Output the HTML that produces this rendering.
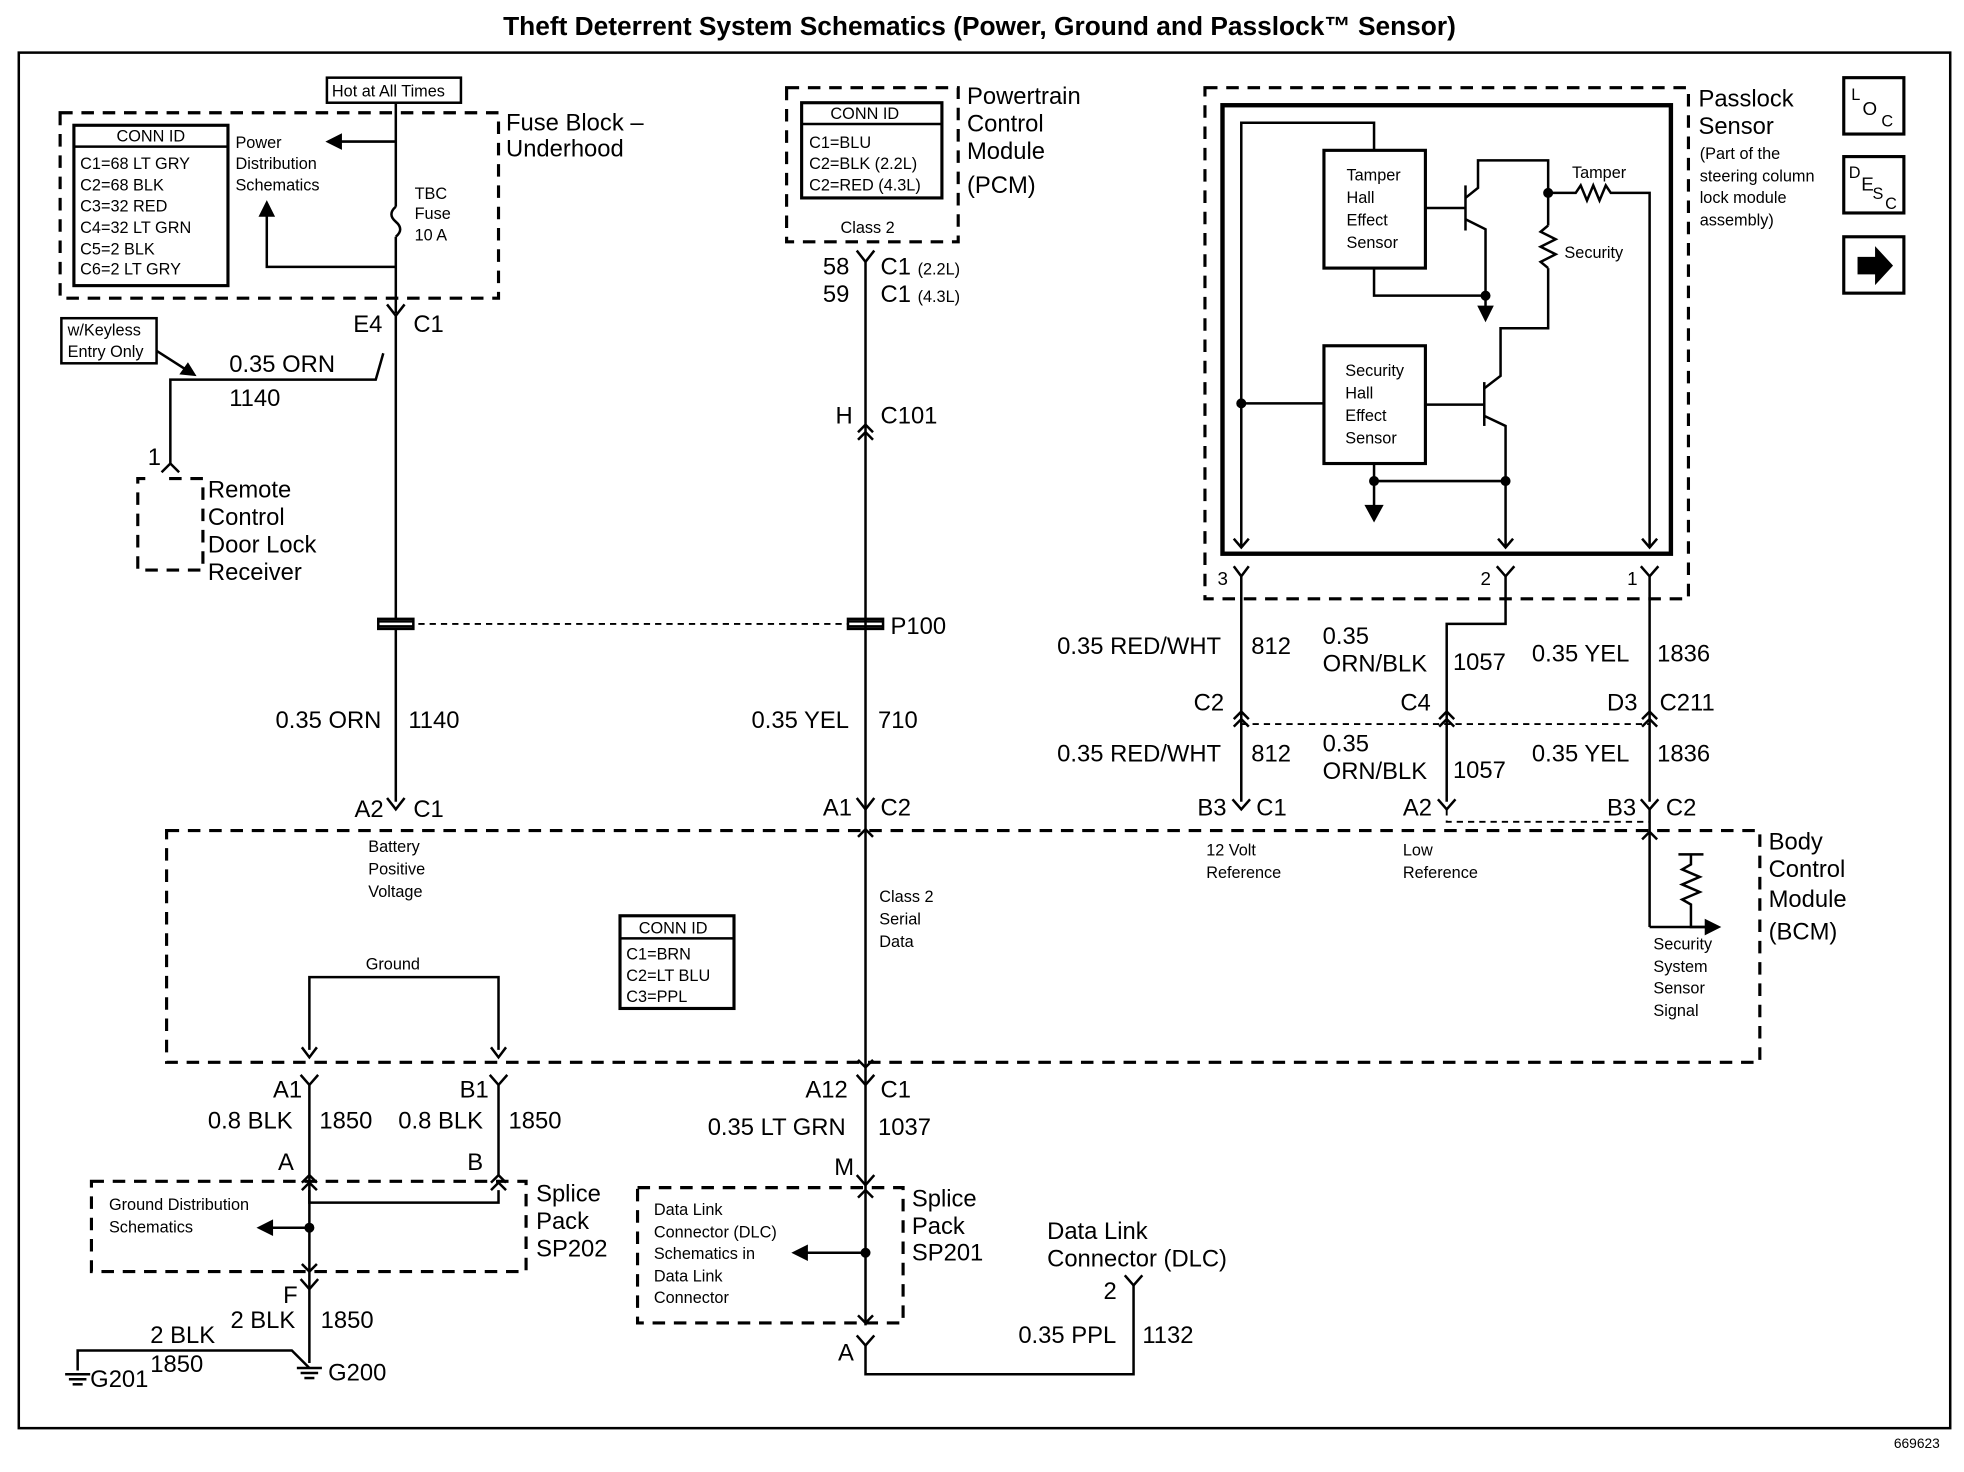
<!DOCTYPE html>
<html><head><meta charset="utf-8"><style>
html,body{margin:0;padding:0;background:#fff}
svg{display:block}
text{font-family:"Liberation Sans",Arial,sans-serif;fill:#000}
.b{font-size:19px}
.m{font-size:15px}
.s{font-size:13px}
.t{font-size:13px}
</style></head><body>
<svg width="1964" height="1472" viewBox="0 0 1568 1175" preserveAspectRatio="none" xmlns="http://www.w3.org/2000/svg">
<g stroke="#000" fill="none" stroke-width="2">
<rect x="15" y="42" width="1542" height="1098"/>
<rect x="48" y="90" width="350" height="148" stroke-dasharray="10,7" stroke-width="2.5"/>
<rect x="59" y="100" width="123" height="128" stroke-width="2.5"/>
<line x1="59" y1="117" x2="182" y2="117"/>
<rect x="261" y="62" width="107" height="20"/>
<line x1="316" y1="82" x2="316" y2="165"/>
<path d="M316 165 q-7 6 0 12 q7 6 0 12"/>
<line x1="316" y1="189" x2="316" y2="250"/>
<line x1="316" y1="113" x2="270" y2="113"/>
<path d="M262 113 l10 -5 v10z" fill="#000"/>
<polyline points="316,213 213,213 213,170"/>
<path d="M213 162 l-5 10 h10z" fill="#000"/>
<path d="M309 243 L316 252 L323 243"/>
<line x1="316" y1="252" x2="316" y2="640"/>
<polyline points="306,282 300,303 136,303 136,370"/>
<path d="M129 377 L136 370 L143 377"/>
<rect x="49" y="254" width="76" height="36"/>
<line x1="125" y1="280" x2="150" y2="296"/>
<path d="M155 299 l-10 -1 l5 -7z" fill="#000"/>
<polyline points="135,382 162,382 162,455 110,455 110,382 122,382" stroke-dasharray="10,7" stroke-width="2.5"/>
<line x1="316" y1="498" x2="691" y2="498" stroke-dasharray="5,4" stroke-width="1.5"/>
<rect x="302" y="494" width="28" height="8" fill="#fff"/>
<line x1="302" y1="496" x2="330" y2="496"/><line x1="302" y1="500" x2="330" y2="500"/>
<rect x="677" y="494" width="28" height="8" fill="#fff"/>
<line x1="677" y1="496" x2="705" y2="496"/><line x1="677" y1="500" x2="705" y2="500"/>
<path d="M309 637 L316 646 L323 637"/>
<rect x="628" y="70" width="137" height="123" stroke-dasharray="10,7" stroke-width="2.5"/>
<rect x="640" y="82" width="112" height="76" stroke-width="2.5"/>
<line x1="640" y1="99" x2="752" y2="99"/>
<path d="M684 200 L691 209 L698 200"/>
<line x1="691" y1="209" x2="691" y2="1058"/>
<path d="M685 345 L691 339 L697 345 M685 351 L691 345 L697 351"/>
<path d="M684 637 L691 646 L698 637"/>
<path d="M685 668 L691 662 L697 668"/>
<path d="M685 846 L691 852 L697 846"/>
<path d="M684 858 L691 866 L698 858"/>
<path d="M684 938 L691 946 L698 938"/>
<path d="M685 956 L691 950 L697 956"/>
<path d="M685 1050 L691 1056 L697 1050"/>
<path d="M684 1066 L691 1074 L698 1066"/>
<polyline points="691,1074 691,1097 905,1097 905,1025"/>
<path d="M898 1018 L905 1026 L912 1018"/>
<rect x="509" y="948" width="212" height="108" stroke-dasharray="10,7" stroke-width="2.5"/>
<line x1="691" y1="1000" x2="642" y2="1000"/>
<path d="M634 1000 l10 -5 v10z" fill="#000"/>
<circle cx="691" cy="1000" r="3" fill="#000"/>
<rect x="133" y="663" width="1272" height="185" stroke-dasharray="10,7" stroke-width="2.5"/>
<rect x="495" y="731" width="91" height="74" stroke-width="2.5"/>
<line x1="495" y1="749" x2="586" y2="749"/>
<polyline points="247,838 247,780 398,780 398,838"/>
<path d="M241 836 L247 844 L253 836 M392 836 L398 844 L404 836"/>
<path d="M240 858 L247 866 L254 858 M391 858 L398 866 L405 858"/>
<line x1="247" y1="866" x2="247" y2="1088"/>
<line x1="398" y1="866" x2="398" y2="938"/>
<path d="M241 944 L247 938 L253 944 M241 950 L247 944 L253 950"/>
<path d="M392 944 L398 938 L404 944 M392 950 L398 944 L404 950"/>
<rect x="73" y="943" width="347" height="72" stroke-dasharray="10,7" stroke-width="2.5"/>
<polyline points="247,950 247,960 398,960 398,950"/>
<line x1="247" y1="980" x2="215" y2="980"/>
<path d="M207 980 l10 -5 v10z" fill="#000"/>
<circle cx="247" cy="980" r="3" fill="#000"/>
<path d="M241 1009 L247 1015 L253 1009"/>
<path d="M240 1021 L247 1029 L254 1021"/>
<polyline points="62,1094 62,1078 233,1078 247,1092"/>
<line x1="52" y1="1097" x2="72" y2="1097"/><line x1="55" y1="1101" x2="69" y2="1101"/><line x1="58" y1="1105" x2="66" y2="1105"/>
<line x1="237" y1="1092" x2="257" y2="1092"/><line x1="240" y1="1096" x2="254" y2="1096"/><line x1="243" y1="1100" x2="251" y2="1100"/>
<rect x="962" y="70" width="386" height="408" stroke-dasharray="10,7" stroke-width="2.5"/>
<rect x="976" y="84" width="358" height="358" stroke-width="3.5"/>
<rect x="1057" y="120" width="81" height="94" stroke-width="2.5"/>
<rect x="1057" y="276" width="81" height="94" stroke-width="2.5"/>
<polyline points="1097,120 1097,98 991,98 991,436"/>
<path d="M985 430 L991 437 L997 430"/>
<line x1="991" y1="322" x2="1057" y2="322"/>
<circle cx="991" cy="322" r="3" fill="#000"/>
<line x1="1138" y1="166" x2="1170" y2="166"/>
<line x1="1170" y1="148" x2="1170" y2="184"/>
<polyline points="1170,158 1180,150 1180,128 1236,128 1236,180"/>
<path d="M1236 180 l-6 5 l12 6 l-12 6 l12 6 l-12 6 l6 5"/>
<polyline points="1236,214 1236,262 1198,262 1198,300 1185,310"/>
<polyline points="1170,175 1186,183 1186,245"/>
<path d="M1181 245 h10 l-5 10z" fill="#000"/>
<polyline points="1097,214 1097,236 1186,236"/>
<circle cx="1186" cy="236" r="3" fill="#000"/>
<circle cx="1236" cy="154" r="3" fill="#000"/>
<polyline points="1236,154 1258,154 1262,148 1267,160 1272,148 1277,160 1282,148 1286,154 1317,154 1317,436"/>
<path d="M1311 430 L1317 437 L1323 430"/>
<line x1="1138" y1="323" x2="1185" y2="323"/>
<line x1="1185" y1="305" x2="1185" y2="340"/>
<polyline points="1185,332 1202,340 1202,436"/>
<path d="M1196 430 L1202 437 L1208 430"/>
<polyline points="1097,370 1097,404"/>
<path d="M1091 404 h12 l-6 11z" fill="#000"/>
<line x1="1097" y1="384" x2="1202" y2="384"/>
<circle cx="1097" cy="384" r="3" fill="#000"/><circle cx="1202" cy="384" r="3" fill="#000"/>
<path d="M985 452 L991 460 L997 452 M1195 452 L1202 460 L1209 452 M1310 452 L1317 460 L1324 452"/>
<line x1="991" y1="460" x2="991" y2="640"/>
<polyline points="1202,460 1202,498 1155,498 1155,640"/>
<line x1="1317" y1="460" x2="1317" y2="640"/>
<line x1="991" y1="578" x2="1317" y2="578" stroke-dasharray="5,4" stroke-width="1.5"/>
<path d="M985 574 L991 568 L997 574 M985 580 L991 574 L997 580"/>
<path d="M1149 574 L1155 568 L1161 574 M1149 580 L1155 574 L1161 580"/>
<path d="M1311 574 L1317 568 L1323 574 M1311 580 L1317 574 L1323 580"/>
<path d="M984 638 L991 646 L998 638 M1148 638 L1155 646 L1162 638 M1310 638 L1317 646 L1324 638"/>
<polyline points="1155,646 1155,656 1317,656" stroke-dasharray="5,4" stroke-width="1.5"/>
<line x1="1317" y1="646" x2="1317" y2="740"/>
<path d="M1311 670 L1317 664 L1323 670"/>
<path d="M1340 682 h20 M1350 682 v8 l-7 4 l14 6 l-14 6 l14 6 l-14 6 l7 4 v18 h12"/>
<path d="M1317 740 h50"/>
<path d="M1372 740 l-10 -5 v10z" fill="#000"/>
<rect x="1472" y="62" width="48" height="45" stroke-width="2.5"/>
<rect x="1472" y="125" width="48" height="45" stroke-width="2.5"/>
<rect x="1472" y="189" width="48" height="45" stroke-width="2.5"/>
<path d="M1484 206 h14 v-7 l12 13 l-12 13 v-7 h-14z" fill="#000"/>
</g>
<text x="782" y="28" text-anchor="middle" style="font-size:21px;font-weight:bold">Theft Deterrent System Schematics (Power, Ground and Passlock™ Sensor)</text>
<text class="s" x="93" y="113">CONN ID</text>
<text class="s"><tspan x="64" y="135">C1=68 LT GRY</tspan><tspan x="64" y="152">C2=68 BLK</tspan><tspan x="64" y="169">C3=32 RED</tspan><tspan x="64" y="186">C4=32 LT GRN</tspan><tspan x="64" y="203">C5=2 BLK</tspan><tspan x="64" y="219">C6=2 LT GRY</tspan></text>
<text class="s"><tspan x="188" y="118">Power</tspan><tspan x="188" y="135">Distribution</tspan><tspan x="188" y="152">Schematics</tspan></text>
<text class="s" x="265" y="77">Hot at All Times</text>
<text class="s"><tspan x="331" y="159">TBC</tspan><tspan x="331" y="175">Fuse</tspan><tspan x="331" y="192">10 A</tspan></text>
<text class="b"><tspan x="404" y="104">Fuse Block –</tspan><tspan x="404" y="125">Underhood</tspan></text>
<text class="s"><tspan x="54" y="268">w/Keyless</tspan><tspan x="54" y="285">Entry Only</tspan></text>
<text class="b" x="282" y="265">E4</text><text class="b" x="330" y="265">C1</text>
<text class="b" x="183" y="297">0.35 ORN</text><text class="b" x="183" y="324">1140</text>
<text class="b" x="118" y="371">1</text>
<text class="b"><tspan x="166" y="397">Remote</tspan><tspan x="166" y="419">Control</tspan><tspan x="166" y="441">Door Lock</tspan><tspan x="166" y="463">Receiver</tspan></text>
<text class="b" x="220" y="581">0.35 ORN</text><text class="b" x="326" y="581">1140</text>
<text class="b" x="283" y="652">A2</text><text class="b" x="330" y="652">C1</text>
<text class="s"><tspan x="294" y="680">Battery</tspan><tspan x="294" y="698">Positive</tspan><tspan x="294" y="716">Voltage</tspan></text>
<text class="s" x="663" y="95">CONN ID</text>
<text class="s"><tspan x="646" y="118">C1=BLU</tspan><tspan x="646" y="135">C2=BLK (2.2L)</tspan><tspan x="646" y="152">C2=RED (4.3L)</tspan></text>
<text class="s" x="671" y="186">Class 2</text>
<text class="b"><tspan x="772" y="83">Powertrain</tspan><tspan x="772" y="105">Control</tspan><tspan x="772" y="127">Module</tspan><tspan x="772" y="154">(PCM)</tspan></text>
<text class="b" x="657" y="219">58</text><text class="b" x="703" y="219">C1 <tspan class="s">(2.2L)</tspan></text>
<text class="b" x="657" y="241">59</text><text class="b" x="703" y="241">C1 <tspan class="s">(4.3L)</tspan></text>
<text class="b" x="667" y="338">H</text><text class="b" x="703" y="338">C101</text>
<text class="b" x="711" y="506">P100</text>
<text class="b" x="600" y="581">0.35 YEL</text><text class="b" x="701" y="581">710</text>
<text class="b" x="657" y="651">A1</text><text class="b" x="703" y="651">C2</text>
<text class="s"><tspan x="702" y="720">Class 2</tspan><tspan x="702" y="738">Serial</tspan><tspan x="702" y="756">Data</tspan></text>
<text class="s" x="510" y="745">CONN ID</text>
<text class="s"><tspan x="500" y="766">C1=BRN</tspan><tspan x="500" y="783">C2=LT BLU</tspan><tspan x="500" y="800">C3=PPL</tspan></text>
<text class="s" x="292" y="774">Ground</text>
<text class="b" x="218" y="876">A1</text><text class="b" x="367" y="876">B1</text>
<text class="b" x="166" y="901">0.8 BLK</text><text class="b" x="255" y="901">1850</text>
<text class="b" x="318" y="901">0.8 BLK</text><text class="b" x="406" y="901">1850</text>
<text class="b" x="222" y="934">A</text><text class="b" x="373" y="934">B</text>
<text class="s"><tspan x="87" y="966">Ground Distribution</tspan><tspan x="87" y="984">Schematics</tspan></text>
<text class="b"><tspan x="428" y="959">Splice</tspan><tspan x="428" y="981">Pack</tspan><tspan x="428" y="1003">SP202</tspan></text>
<text class="b" x="226" y="1040">F</text>
<text class="b" x="184" y="1060">2 BLK</text><text class="b" x="256" y="1060">1850</text>
<text class="b" x="120" y="1072">2 BLK</text><text class="b" x="120" y="1095">1850</text>
<text class="b" x="72" y="1107">G201</text><text class="b" x="262" y="1102">G200</text>
<text class="b" x="643" y="876">A12</text><text class="b" x="703" y="876">C1</text>
<text class="b" x="565" y="906">0.35 LT GRN</text><text class="b" x="701" y="906">1037</text>
<text class="b" x="666" y="938">M</text>
<text class="s"><tspan x="522" y="970">Data Link</tspan><tspan x="522" y="988">Connector (DLC)</tspan><tspan x="522" y="1005">Schematics in</tspan><tspan x="522" y="1023">Data Link</tspan><tspan x="522" y="1040">Connector</tspan></text>
<text class="b"><tspan x="728" y="963">Splice</tspan><tspan x="728" y="985">Pack</tspan><tspan x="728" y="1006">SP201</tspan></text>
<text class="b" x="669" y="1086">A</text>
<text class="b"><tspan x="836" y="989">Data Link</tspan><tspan x="836" y="1011">Connector (DLC)</tspan></text>
<text class="b" x="881" y="1037">2</text>
<text class="b" x="813" y="1072">0.35 PPL</text><text class="b" x="912" y="1072">1132</text>
<text class="s"><tspan x="1075" y="144">Tamper</tspan><tspan x="1075" y="162">Hall</tspan><tspan x="1075" y="180">Effect</tspan><tspan x="1075" y="198">Sensor</tspan></text>
<text class="s"><tspan x="1074" y="300">Security</tspan><tspan x="1074" y="318">Hall</tspan><tspan x="1074" y="336">Effect</tspan><tspan x="1074" y="354">Sensor</tspan></text>
<text class="s" x="1255" y="142">Tamper</text>
<text class="s" x="1249" y="206">Security</text>
<text class="b"><tspan x="1356" y="85">Passlock</tspan><tspan x="1356" y="107">Sensor</tspan></text>
<text class="s"><tspan x="1357" y="127">(Part of the</tspan><tspan x="1357" y="145">steering column</tspan><tspan x="1357" y="162">lock module</tspan><tspan x="1357" y="180">assembly)</tspan></text>
<text class="m" x="972" y="467">3</text><text class="m" x="1182" y="467">2</text><text class="m" x="1299" y="467">1</text>
<text class="b" x="844" y="522">0.35 RED/WHT</text><text class="b" x="999" y="522">812</text>
<text class="b"><tspan x="1056" y="514">0.35</tspan><tspan x="1056" y="536">ORN/BLK</tspan></text><text class="b" x="1160" y="535">1057</text>
<text class="b" x="1223" y="528">0.35 YEL</text><text class="b" x="1323" y="528">1836</text>
<text class="b" x="953" y="567">C2</text><text class="b" x="1118" y="567">C4</text><text class="b" x="1283" y="567">D3</text><text class="b" x="1325" y="567">C211</text>
<text class="b" x="844" y="608">0.35 RED/WHT</text><text class="b" x="999" y="608">812</text>
<text class="b"><tspan x="1056" y="600">0.35</tspan><tspan x="1056" y="622">ORN/BLK</tspan></text><text class="b" x="1160" y="621">1057</text>
<text class="b" x="1223" y="608">0.35 YEL</text><text class="b" x="1323" y="608">1836</text>
<text class="b" x="956" y="651">B3</text><text class="b" x="1003" y="651">C1</text>
<text class="b" x="1120" y="651">A2</text>
<text class="b" x="1283" y="651">B3</text><text class="b" x="1330" y="651">C2</text>
<text class="s"><tspan x="963" y="683">12 Volt</tspan><tspan x="963" y="701">Reference</tspan></text>
<text class="s"><tspan x="1120" y="683">Low</tspan><tspan x="1120" y="701">Reference</tspan></text>
<text class="s"><tspan x="1320" y="758">Security</tspan><tspan x="1320" y="776">System</tspan><tspan x="1320" y="793">Sensor</tspan><tspan x="1320" y="811">Signal</tspan></text>
<text class="b"><tspan x="1412" y="678">Body</tspan><tspan x="1412" y="700">Control</tspan><tspan x="1412" y="724">Module</tspan><tspan x="1412" y="750">(BCM)</tspan></text>
<text class="s" x="1478" y="80">L</text><text class="m" x="1487" y="92">O</text><text class="s" x="1502" y="101">C</text>
<text class="s" x="1476" y="142">D</text><text class="m" x="1486" y="152">E</text><text class="s" x="1495" y="159">S</text><text class="s" x="1505" y="167">C</text>
<text style="font-size:11px" x="1512" y="1156">669623</text>
</svg>
</body></html>
